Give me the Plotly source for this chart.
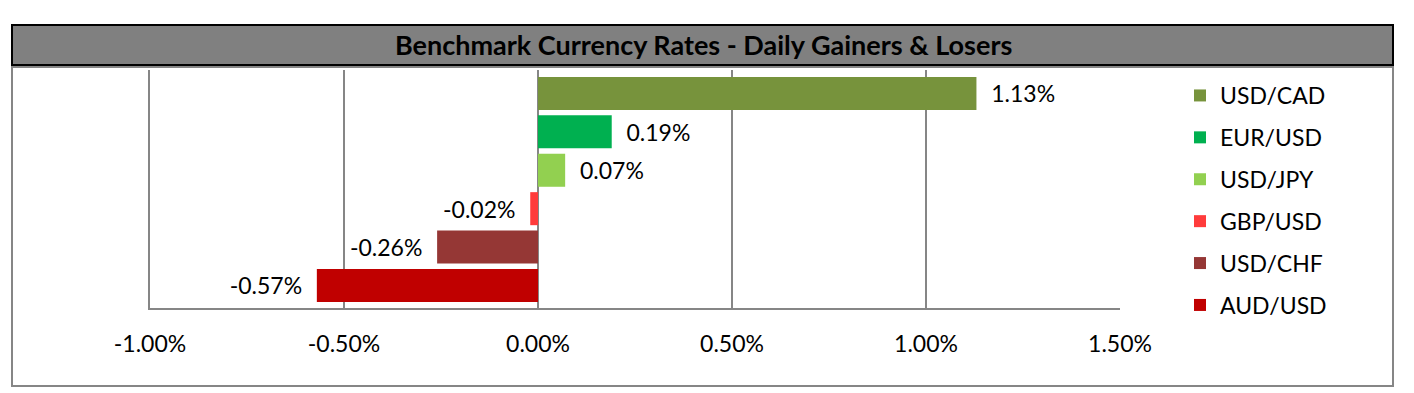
import plotly.graph_objects as go

pairs = ["USD/CAD", "EUR/USD", "USD/JPY", "GBP/USD", "USD/CHF", "AUD/USD"]
changes = [1.13, 0.19, 0.07, -0.02, -0.26, -0.57]
labels = ["1.13%", "0.19%", "0.07%", "-0.02%", "-0.26%", "-0.57%"]
colors = ["#77933C", "#00B050", "#92D050", "#FF3B3B", "#953735", "#C00000"]
x_ticks = [-1.0, -0.5, 0.0, 0.5, 1.0, 1.5]
x_tick_labels = ["-1.00%", "-0.50%", "0.00%", "0.50%", "1.00%", "1.50%"]

OFF = 8  # default page body margin
W, H = 1414 - OFF, 393 - OFF
# plot area in page pixels
PL, PR, PT, PB = 150, 1120, 70, 308
L, R, T, B = PL - OFF, PR - OFF, PT - OFF, PB - OFF
FONT = "Lato, 'Open Sans', sans-serif"

def px(x):
    return (x - PL) / (PR - PL)

def py(y):
    return (PB - y) / (PB - PT)

fig = go.Figure()
for p, v, lab, c in zip(pairs, changes, labels, colors):
    fig.add_trace(go.Bar(
        y=[p], x=[v], orientation="h", name=p,
        marker=dict(color=c, line=dict(width=0)),
        text=["  " + lab + "  "], textposition="outside",
        textfont=dict(size=23, color="#000000", family=FONT),
        cliponaxis=False, width=0.86, legendgroup=p,
    ))

shapes = [
    dict(type="rect", xref="paper", yref="paper", x0=px(12), x1=px(1393), y0=py(386), y1=py(67),
         line=dict(color="#868686", width=2), fillcolor="rgba(0,0,0,0)", layer="below"),
    dict(type="rect", xref="paper", yref="paper", x0=px(12), x1=px(1393), y0=py(65), y1=py(25),
         line=dict(color="#000000", width=2), fillcolor="#808080", layer="below"),
]

fig.update_layout(
    width=W, height=H,
    margin=dict(l=L, r=W - R, t=T, b=H - B),
    paper_bgcolor="#FFFFFF", plot_bgcolor="#FFFFFF",
    barmode="overlay",
    showlegend=True,
    legend=dict(x=px(1180), y=py(74), xanchor="left", yanchor="top",
                font=dict(size=23, family=FONT, color="#000000"),
                tracegroupgap=9, traceorder="grouped", itemwidth=30,
                maxheight=330, bgcolor="rgba(0,0,0,0)"),
    shapes=shapes,
    annotations=[dict(text="<b>Benchmark Currency Rates - Daily Gainers &amp; Losers</b>",
                      xref="paper", yref="paper", x=px(703), y=py(45),
                      xanchor="center", yanchor="middle",
                      showarrow=False, font=dict(size=27, family=FONT, color="#000000"))],
    xaxis=dict(range=[-1.0, 1.5], tickvals=x_ticks, ticktext=x_tick_labels,
               showgrid=True, gridcolor="#868686", gridwidth=1.5,
               zeroline=False, showline=True, linecolor="#868686", linewidth=1.5,
               ticks="", ticklabelstandoff=15,
               tickfont=dict(size=23, family=FONT, color="#000000"), fixedrange=True),
    yaxis=dict(categoryorder="array", categoryarray=pairs, range=[5.586, -0.61],
               showticklabels=False, showgrid=False, zeroline=False,
               showline=True, linecolor="#868686", linewidth=1.5, ticks="", fixedrange=True),
)

fig.write_html("out.html")
